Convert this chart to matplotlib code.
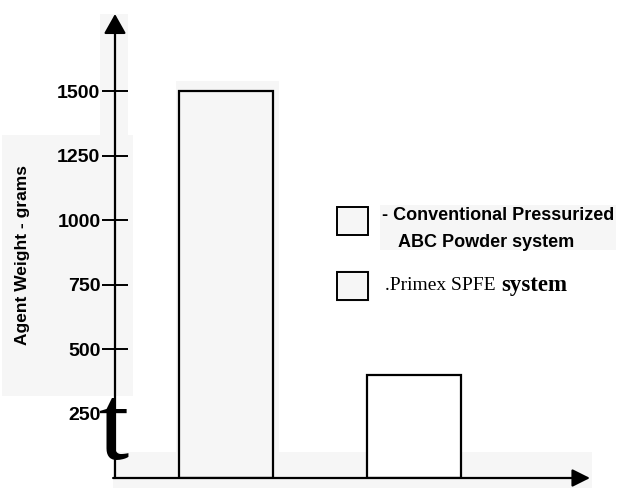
import matplotlib.pyplot as plt
from matplotlib.patches import Rectangle

systems = ["Conventional Pressurized\nABC Powder system", "Primex SPFE system"]
agent_weight = [1500, 400]
yticks = [250, 500, 750, 1000, 1250, 1500]

W, H = 620, 488
sans = ["Liberation Sans", "DejaVu Sans"]
serif = ["Liberation Serif", "DejaVu Serif"]
paper = "#f6f6f6"


def px(x, y):
    # pixel position (from top-left) -> figure fraction
    return x / W, 1 - y / H


fig = plt.figure(figsize=(W / 100, H / 100), dpi=100)
fig.patch.set_facecolor("white")

# light grey patches left over from the scanned page
for x0, y0, x1, y1 in [(100, 14, 128, 135), (2, 135, 133, 396),
                       (176, 81, 279, 478), (113, 452, 592, 488),
                       (380, 205, 616, 250), (336, 270, 370, 302)]:
    fig.patches.append(Rectangle(px(x0, y1), (x1 - x0) / W, (y1 - y0) / H,
                                 transform=fig.transFigure, facecolor=paper,
                                 edgecolor="none", zorder=-5))

ax = fig.add_axes([115 / W, 10 / H, 475 / W, 464 / H])
ax.patch.set_visible(False)
for s in ax.spines.values():
    s.set_visible(False)

ax.set_xlim(-0.59, 1.936)
ax.set_ylim(0, 1800)

ax.bar([0, 1], agent_weight, width=0.5, color=[paper, "white"],
       edgecolor="black", linewidth=1.6, zorder=3)

# axes drawn as arrows
ax.annotate("", xy=(0, 1), xytext=(0, 0), xycoords="axes fraction",
            arrowprops=dict(arrowstyle="-|>,head_length=0.8,head_width=0.45",
                            color="black", lw=1.6, mutation_scale=15,
                            shrinkA=0, shrinkB=0))
ax.annotate("", xy=(1, 0), xytext=(-0.004, 0), xycoords="axes fraction",
            arrowprops=dict(arrowstyle="-|>,head_length=0.9,head_width=0.45",
                            color="black", lw=1.6, mutation_scale=12,
                            shrinkA=0, shrinkB=0))

ax.set_xticks([])
ax.set_yticks(yticks)
ax.tick_params(axis="y", direction="inout", length=19, width=1.4, pad=1,
               labelsize=14)
for lab in ax.get_yticklabels():
    lab.set_fontfamily(sans)
    lab.set_fontweight("bold")
# the lowest tick mark is covered by the stray glyph below
ax.yaxis.get_major_ticks()[0].tick1line.set_visible(False)

ax.set_ylabel("Agent Weight - grams", fontsize=12.5, fontweight="bold",
              family=sans)
ax.yaxis.set_label_coords(-0.178, 0.48)

# stray glyph over the lower end of the y axis
fig.text(*px(114, 433), "t", fontsize=78, family=serif, ha="center",
         va="center")

# key
for y0 in (207, 272):
    fig.patches.append(Rectangle(px(337, y0 + 28), 31 / W, 28 / H,
                                 transform=fig.transFigure, facecolor=paper,
                                 edgecolor="black", linewidth=1.4))
fig.text(*px(382, 215), "- " + systems[0].split("\n")[0], fontsize=13,
         fontweight="bold", family=sans, va="center")
fig.text(*px(398, 242), systems[0].split("\n")[1], fontsize=13,
         fontweight="bold", family=sans, va="center")
fig.text(*px(385, 285), ".Primex SPFE", fontsize=14, family=serif,
         va="center")
fig.text(*px(501, 285), "system", fontsize=16.5, fontweight="bold",
         family=serif, va="center")

fig.savefig("out.png", dpi=100)
